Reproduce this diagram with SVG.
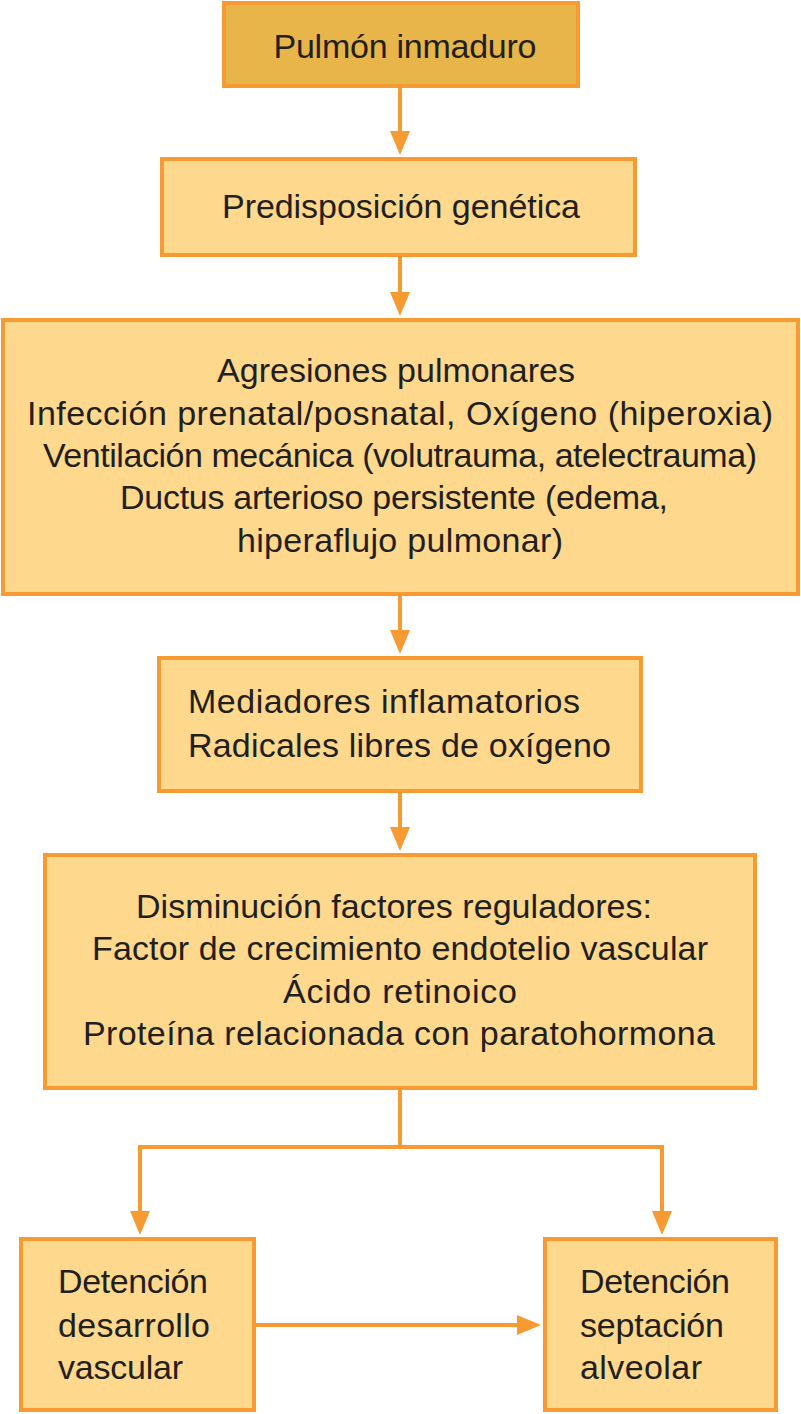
<svg xmlns="http://www.w3.org/2000/svg" width="801" height="1414" viewBox="0 0 801 1414">
<style>
.box{fill:#FDD88D;stroke:#F79A32;stroke-width:4}
.top{fill:#E8B54B}
text{font-family:"Liberation Sans",Arial,sans-serif;font-size:34px;fill:#231F20}
.c{text-anchor:middle}
.conn{fill:none;stroke:#F79A32;stroke-width:4}
</style>
<defs>
<marker id="ah" markerUnits="userSpaceOnUse" markerWidth="24" markerHeight="20" refX="2" refY="10" orient="auto">
<path d="M0,0 L24,10 L0,20 z" fill="#F79A32"/>
</marker>
</defs>
<g id="connectors">
<line class="conn" x1="400" y1="87" x2="400" y2="133" marker-end="url(#ah)"/>
<line class="conn" x1="400" y1="257" x2="400" y2="294" marker-end="url(#ah)"/>
<line class="conn" x1="400" y1="595" x2="400" y2="632" marker-end="url(#ah)"/>
<line class="conn" x1="400" y1="793" x2="400" y2="829" marker-end="url(#ah)"/>
<polyline class="conn" points="400,1090 400,1147"/>
<polyline class="conn" points="400,1147 140,1147 140,1213" marker-end="url(#ah)"/>
<polyline class="conn" points="400,1147 662,1147 662,1213" marker-end="url(#ah)"/>
<line class="conn" x1="255" y1="1325" x2="519" y2="1325" marker-end="url(#ah)"/>
</g>
<g id="n1">
<rect class="box top" x="224" y="3" width="354" height="83"/>
<text class="c" x="405" y="58" textLength="263">Pulmón inmaduro</text>
</g>
<g id="n2">
<rect class="box" x="162" y="159" width="473" height="96"/>
<text class="c" x="401" y="218" textLength="358">Predisposición genética</text>
</g>
<g id="n3">
<rect class="box" x="3" y="320" width="795" height="274"/>
<text class="c" x="396" y="382" textLength="358">Agresiones pulmonares</text>
<text class="c" x="400" y="425" textLength="746">Infección prenatal/posnatal, Oxígeno (hiperoxia)</text>
<text class="c" x="400" y="467" textLength="714">Ventilación mecánica (volutrauma, atelectrauma)</text>
<text class="c" x="394" y="509" textLength="548">Ductus arterioso persistente (edema,</text>
<text class="c" x="400" y="552" textLength="326">hiperaflujo pulmonar)</text>
</g>
<g id="n4">
<rect class="box" x="159" y="658" width="482" height="133"/>
<text x="188" y="713" textLength="392">Mediadores inflamatorios</text>
<text x="188" y="757" textLength="423">Radicales libres de oxígeno</text>
</g>
<g id="n5">
<rect class="box" x="45" y="855" width="710" height="233"/>
<text class="c" x="394" y="918" textLength="516">Disminución factores reguladores:</text>
<text class="c" x="400" y="960" textLength="616">Factor de crecimiento endotelio vascular</text>
<text class="c" x="400" y="1003" textLength="234">Ácido retinoico</text>
<text class="c" x="399" y="1045" textLength="632">Proteína relacionada con paratohormona</text>
</g>
<g id="n6">
<rect class="box" x="21" y="1239" width="233" height="171"/>
<text x="58" y="1293" textLength="150">Detención</text>
<text x="58" y="1337" textLength="152">desarrollo</text>
<text x="58" y="1379" textLength="125">vascular</text>
</g>
<g id="n7">
<rect class="box" x="545" y="1239" width="231" height="171"/>
<text x="580" y="1293" textLength="150">Detención</text>
<text x="580" y="1337" textLength="144">septación</text>
<text x="580" y="1379" textLength="122">alveolar</text>
</g>
</svg>
